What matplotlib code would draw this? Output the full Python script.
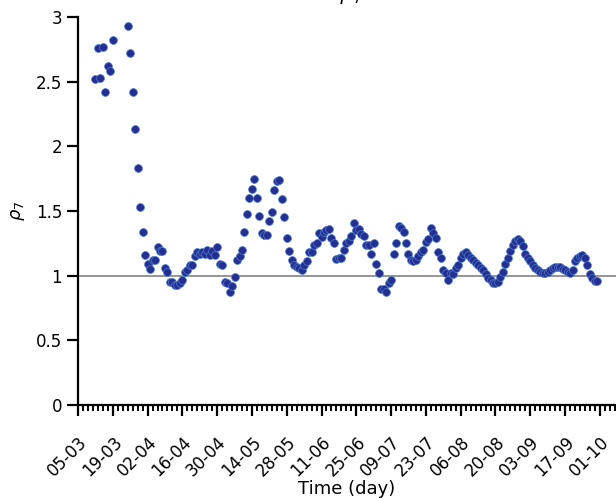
import matplotlib
matplotlib.use("Agg")
import matplotlib.pyplot as plt
import matplotlib.dates as mdates
from matplotlib.ticker import FixedLocator
import pandas as pd

# ---- data ----
seg1_start = "2020-03-12"
seg1_vals = [2.52, 2.76, 2.53, 2.77, 2.42, 2.62, 2.58, 2.82]

seg2_start = "2020-03-25"
seg2_vals = [
    2.93, 2.72, 2.42, 2.13, 1.83, 1.53, 1.34, 1.16, 1.09, 1.05,
    1.12, 1.12, 1.22, 1.19, 1.19, 1.06, 1.03, 0.95, 0.95, 0.93,
    0.93, 0.94, 0.97, 1.03, 1.04, 1.08, 1.08, 1.155, 1.18, 1.17,
    1.18, 1.17, 1.20, 1.16, 1.19, 1.16, 1.22, 1.09, 1.08, 0.95,
    0.94, 0.87, 0.92, 0.99, 1.12, 1.15, 1.20, 1.34, 1.48, 1.60,
    1.67, 1.745, 1.60, 1.46, 1.33, 1.315, 1.315, 1.42, 1.49, 1.66,
    1.73, 1.74, 1.59, 1.45, 1.29, 1.19, 1.12, 1.08, 1.07, 1.06,
    1.04, 1.08, 1.11, 1.18, 1.18, 1.24, 1.25, 1.33, 1.30, 1.34,
    1.35, 1.36, 1.29, 1.25, 1.13, 1.135, 1.14, 1.20, 1.25, 1.27,
    1.31, 1.405, 1.35, 1.36, 1.32, 1.31, 1.24, 1.24, 1.17, 1.25,
    1.09, 1.02, 0.895, 0.90, 0.87, 0.94, 0.97, 1.17, 1.25, 1.38,
    1.37, 1.34, 1.25, 1.17, 1.12, 1.11, 1.12, 1.15, 1.18, 1.20,
    1.26, 1.28, 1.37, 1.33, 1.29, 1.18, 1.135, 1.04, 1.02, 0.97,
    1.02, 1.01, 1.06, 1.08, 1.14, 1.17, 1.18, 1.16, 1.135, 1.12,
    1.10, 1.08, 1.06, 1.04, 1.01, 0.985, 0.97, 0.94, 0.94, 0.95,
    0.99, 1.03, 1.09, 1.14, 1.19, 1.24, 1.27, 1.28, 1.27, 1.23,
    1.17, 1.135, 1.11, 1.08, 1.06, 1.045, 1.025, 1.018, 1.02, 1.03,
    1.045, 1.06, 1.065, 1.07, 1.065, 1.055, 1.04, 1.03, 1.02, 1.045,
    1.11, 1.135, 1.15, 1.16, 1.135, 1.08, 1.01, 0.98, 0.96, 0.96,
]

major_tick_start = "2020-03-05"
major_tick_end = "2020-10-01"
y_ticks = [0, 0.5, 1, 1.5, 2, 2.5, 3]
y_ticklabels = ["0", "0.5", "1", "1.5", "2", "2.5", "3"]
reference_level = 1.0
title_text = r"Actual $\rho_7$ = 2.5"

dates = list(pd.date_range(seg1_start, periods=len(seg1_vals), freq="D")) + \
        list(pd.date_range(seg2_start, periods=len(seg2_vals), freq="D"))
values = seg1_vals + seg2_vals

# ---- plot ----
fig = plt.figure(figsize=(6.16, 4.99), dpi=100)
ax = fig.add_axes([0.1266, 0.1884, 0.8734, 0.7776])

ax.axhline(reference_level, color="#8c8c8c", lw=1.3, zorder=1)
ax.scatter(dates, values, s=32, color="#252E91", edgecolors="#4a7fd2",
           linewidths=0.5, zorder=3)

x0 = pd.Timestamp(major_tick_start)
ax.set_xlim(x0, x0 + pd.Timedelta(days=216.5))
ax.set_ylim(0, 3)

majors = pd.date_range(major_tick_start, major_tick_end, freq="14D")
minors = pd.date_range(major_tick_start, "2020-10-15", freq="2D")
ax.xaxis.set_major_locator(FixedLocator(mdates.date2num(majors)))
ax.xaxis.set_minor_locator(FixedLocator(mdates.date2num(minors)))
ax.xaxis.set_major_formatter(mdates.DateFormatter("%d-%m"))
plt.setp(ax.get_xticklabels(), rotation=45, ha="right", rotation_mode="anchor")

ax.set_yticks(y_ticks)
ax.set_yticklabels(y_ticklabels)

for s in ["top", "right"]:
    ax.spines[s].set_visible(False)
for s in ["left", "bottom"]:
    ax.spines[s].set_linewidth(1.6)

ax.tick_params(axis="both", which="major", length=8, width=1.6,
               labelsize=12, direction="out")
ax.tick_params(axis="x", which="major", pad=12)
ax.tick_params(axis="x", which="minor", length=4, width=1.4, direction="out")

ax.set_xlabel("Time (day)", fontsize=13, labelpad=0)
ax.set_ylabel(r"$\rho_7$", fontsize=13, labelpad=6)
ax.set_title(title_text, fontsize=14, pad=12.3)

fig.savefig("out.png", dpi=100)
